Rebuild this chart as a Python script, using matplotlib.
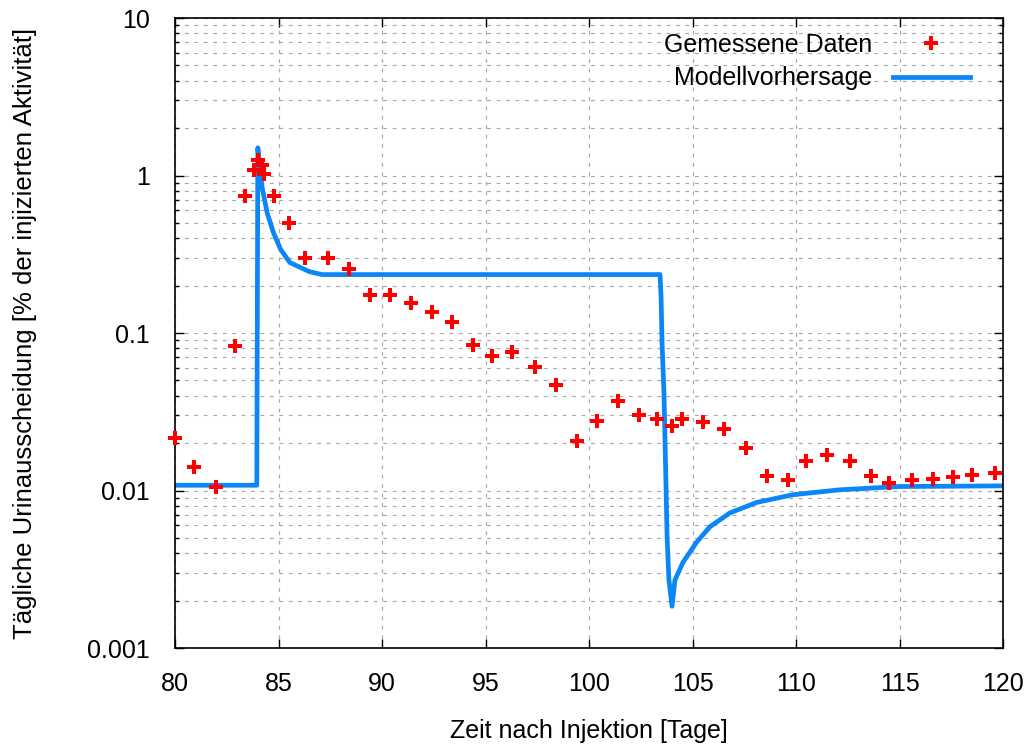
import numpy as np
import matplotlib
matplotlib.use('Agg')
import matplotlib.pyplot as plt
from matplotlib.ticker import LogLocator, FuncFormatter, MultipleLocator

plt.rcParams['font.family'] = ['Liberation Sans', 'DejaVu Sans']

# gemessene Daten (Tag, % der injizierten Aktivitaet)
tag_mess = [80.0, 80.9, 82.0, 82.9, 83.4, 83.8, 84.0, 84.2, 84.3, 84.8,
            85.5, 86.3, 87.4, 88.4, 89.4, 90.4, 91.4, 92.4, 93.4, 94.4,
            95.3, 96.3, 97.4, 98.4, 99.4, 100.4, 101.4, 102.4, 103.3, 104.0,
            104.5, 105.5, 106.5, 107.6, 108.6, 109.6, 110.5, 111.5, 112.6, 113.6,
            114.5, 115.6, 116.6, 117.6, 118.5, 119.6]
wert_mess = [0.0217, 0.014, 0.0106, 0.083, 0.74, 1.08, 1.26, 1.17, 1.03, 0.74,
             0.50, 0.30, 0.30, 0.255, 0.175, 0.175, 0.154, 0.135, 0.118, 0.084,
             0.0715, 0.076, 0.061, 0.0468, 0.0205, 0.0278, 0.0368, 0.030, 0.0283, 0.0255,
             0.0286, 0.0274, 0.0247, 0.0185, 0.0123, 0.0116, 0.0153, 0.0167, 0.0153, 0.0123,
             0.0111, 0.0116, 0.0119, 0.0121, 0.0125, 0.013]

# Modellvorhersage
tag_mod = [80.0, 83.95, 84.0, 84.2, 84.45, 84.75, 85.1, 85.55, 86.5, 87.1,
           103.43, 103.48, 103.53, 103.62, 103.67, 103.72, 103.77, 103.86, 104.01,
           104.15, 104.54, 105.2, 105.85, 106.8, 108.1, 109.85, 112.1, 115.0, 120.0]
wert_mod = [0.0108, 0.0108, 1.5, 0.85, 0.58, 0.435, 0.34, 0.28, 0.245, 0.235,
            0.235, 0.17, 0.085, 0.042, 0.021, 0.0106, 0.0051, 0.0027, 0.00184,
            0.0027, 0.0035, 0.0047, 0.0059, 0.0072, 0.0084, 0.0094, 0.0101, 0.0106, 0.0107]

fig = plt.figure(figsize=(10.26, 7.45), dpi=100)
ax = fig.add_axes([0.1706, 0.1302, 0.807, 0.8456])

ax.plot(tag_mess, wert_mess, linestyle='none', marker='P', markersize=10.5,
        color='#ff0000', markeredgewidth=0, label='Gemessene Daten', zorder=3,
        clip_on=False)
ax.plot(tag_mod, wert_mod, color='#0a86f6', linewidth=3.4,
        label='Modellvorhersage', zorder=2)

ax.set_yscale('log')
ax.set_xlim(80, 120)
ax.set_ylim(0.001, 10)

ax.xaxis.set_major_locator(MultipleLocator(5))
ax.yaxis.set_major_locator(LogLocator(base=10, numticks=10))
ax.yaxis.set_minor_locator(LogLocator(base=10, subs=np.arange(2, 10), numticks=20))
ax.yaxis.set_major_formatter(FuncFormatter(lambda v, p: '%g' % v))
ax.yaxis.set_minor_formatter(FuncFormatter(lambda v, p: ''))

ax.tick_params(which='both', direction='in', top=True, right=True, labelsize=18)
ax.tick_params(which='major', length=6.5, width=1)
ax.tick_params(which='minor', length=3.2, width=1)
ax.tick_params(axis='x', pad=17)
ax.tick_params(axis='y', pad=18)

grid_kw = dict(color='#a8a8a8', linestyle=(0, (3.2, 4.8)), linewidth=0.85)
ax.grid(True, which='major', **grid_kw)
ax.grid(True, which='minor', axis='y', **grid_kw)

for s in ax.spines.values():
    s.set_linewidth(1.2)

ax.set_xlabel('Zeit nach Injektion [Tage]', fontsize=18)
ax.set_ylabel('Tägliche Urinausscheidung [% der injizierten Aktivität]', fontsize=18.5)
ax.xaxis.set_label_coords(0.5, -0.112)
ax.yaxis.set_label_coords(-0.167, 0.5)

leg = ax.legend(loc='upper right', bbox_to_anchor=(0.9601, 0.976), frameon=False,
                markerfirst=False, fontsize=18, handlelength=3.08, handletextpad=0.84,
                borderpad=0, borderaxespad=0, labelspacing=0.37)
for t in leg.get_texts():
    t.set_ha('right')

fig.savefig('out.png', dpi=100)
